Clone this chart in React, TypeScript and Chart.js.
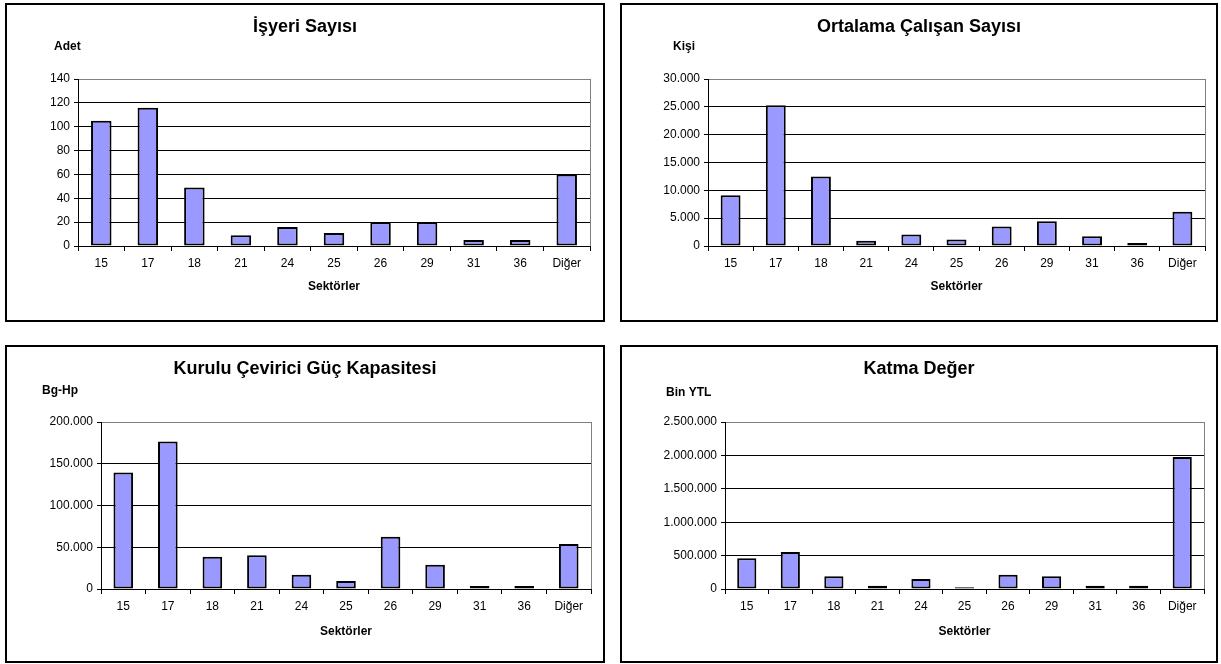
import React, { useEffect, useRef } from 'react';
import { Chart, registerables } from 'chart.js';

Chart.register(...registerables);

const sectors = ['15', '17', '18', '21', '24', '25', '26', '29', '31', '36', 'Diğer'];
const isyeriSayisi = [105, 116, 49, 9, 16, 11, 20, 20, 5, 5, 60];
const calisanSayisi = [9100, 25300, 12500, 950, 2050, 1150, 3500, 4450, 1750, 550, 6150];
const gucKapasitesi = [139500, 176500, 38500, 40500, 17000, 9500, 62500, 29000, 3500, 3500, 54000];
const katmaDeger = [460000, 555000, 190000, 50000, 150000, 25000, 215000, 190000, 50000, 50000, 1975000];

const FONT = '"Liberation Sans", Arial, Helvetica, sans-serif';

const fmt = (v: number) => String(Math.round(v)).replace(/\B(?=(\d{3})+(?!\d))/g, '.');

type PanelSpec = {
  title: string;
  unit: string;
  values: number[];
  max: number;
  step: number;
  left: number;
  top: number;
  width: number;
  height: number;
  plotLeft: number;
  plotRight: number;
  plotTop: number;
  plotBottom: number;
  titleY: number;
  unitX: number;
  unitY: number;
  axisTitleY: number;
};

const panels: PanelSpec[] = [
  {
    title: 'İşyeri Sayısı', unit: 'Adet', values: isyeriSayisi, max: 140, step: 20,
    left: 5, top: 3, width: 600, height: 319,
    plotLeft: 71, plotRight: 583, plotTop: 74, plotBottom: 241,
    titleY: 22, unitX: 47, unitY: 42, axisTitleY: 282,
  },
  {
    title: 'Ortalama Çalışan Sayısı', unit: 'Kişi', values: calisanSayisi, max: 30000, step: 5000,
    left: 620, top: 3, width: 598, height: 319,
    plotLeft: 86, plotRight: 583, plotTop: 74, plotBottom: 241,
    titleY: 22, unitX: 51, unitY: 42, axisTitleY: 282,
  },
  {
    title: 'Kurulu Çevirici Güç Kapasitesi', unit: 'Bg-Hp', values: gucKapasitesi, max: 200000, step: 50000,
    left: 5, top: 345, width: 600, height: 318,
    plotLeft: 94, plotRight: 584, plotTop: 75, plotBottom: 242,
    titleY: 22, unitX: 35, unitY: 44, axisTitleY: 285,
  },
  {
    title: 'Katma Değer', unit: 'Bin YTL', values: katmaDeger, max: 2500000, step: 500000,
    left: 620, top: 345, width: 598, height: 318,
    plotLeft: 103, plotRight: 582, plotTop: 75, plotBottom: 242,
    titleY: 22, unitX: 44, unitY: 46, axisTitleY: 285,
  },
];

function Panel({ spec }: { spec: PanelSpec }) {
  const ref = useRef<HTMLCanvasElement | null>(null);
  const cw = spec.width - 4;
  const ch = spec.height - 4;

  useEffect(() => {
    if (!ref.current) return;
    const textPlugin = {
      id: 'panelText',
      afterDraw(chart: any) {
        const ctx = chart.ctx;
        const a = chart.chartArea;
        ctx.save();
        ctx.strokeStyle = '#808080';
        ctx.lineWidth = 1;
        ctx.beginPath();
        ctx.moveTo(Math.round(a.right) + 0.5, a.top);
        ctx.lineTo(Math.round(a.right) + 0.5, a.bottom);
        ctx.stroke();
        ctx.fillStyle = '#000';
        ctx.textAlign = 'center';
        ctx.textBaseline = 'middle';
        ctx.font = `bold 18px ${FONT}`;
        ctx.fillText(spec.title, chart.width / 2, spec.titleY);
        ctx.textAlign = 'left';
        ctx.font = `bold 12px ${FONT}`;
        ctx.fillText(spec.unit, spec.unitX, spec.unitY);
        ctx.restore();
      },
    };

    const chart = new Chart(ref.current, {
      type: 'bar',
      data: {
        labels: sectors,
        datasets: [
          {
            data: spec.values,
            backgroundColor: '#9999FF',
            borderColor: '#000000',
            borderWidth: 2,
            borderSkipped: false,
            barPercentage: 0.44,
            categoryPercentage: 1.0,
          },
        ],
      },
      options: {
        responsive: false,
        maintainAspectRatio: false,
        animation: false,
        devicePixelRatio: 1,
        layout: {
          padding: { left: 0, top: spec.plotTop, right: cw - spec.plotRight, bottom: 0 },
        },
        plugins: {
          legend: { display: false },
          tooltip: { enabled: false },
          title: { display: false },
        },
        scales: {
          x: {
            offset: true,
            grid: {
              display: true,
              offset: true,
              drawOnChartArea: false,
              drawTicks: true,
              tickLength: 5,
              color: '#000',
            },
            border: { display: true, color: '#000', width: 1 },
            ticks: {
              color: '#000',
              font: { family: FONT, size: 12 },
              padding: 5,
              maxRotation: 0,
              autoSkip: false,
            },
            title: {
              display: true,
              text: 'Sektörler',
              color: '#000',
              font: { family: FONT, size: 12, weight: 'bold' },
              padding: { top: 0, bottom: ch - spec.axisTitleY - 7.2 },
            },
            afterFit: (s: any) => {
              s.height = ch - spec.plotBottom;
            },
          },
          y: {
            min: 0,
            max: spec.max,
            grid: {
              color: (c: any) => (c.tick && c.tick.value === spec.max ? '#808080' : '#000'),
              tickColor: '#000',
              tickLength: 4,
              lineWidth: 1,
            },
            border: { display: true, color: '#000', width: 1 },
            ticks: {
              stepSize: spec.step,
              color: '#000',
              font: { family: FONT, size: 12 },
              padding: 4,
              callback: (v: any) => fmt(Number(v)),
            },
            afterFit: (s: any) => {
              s.width = spec.plotLeft;
            },
          },
        },
      },
      plugins: [textPlugin],
    } as any);
    return () => chart.destroy();
  }, [spec]);

  return (
    <div
      style={{
        position: 'absolute',
        left: spec.left,
        top: spec.top,
        width: spec.width,
        height: spec.height,
        border: '2px solid #000',
        boxSizing: 'border-box',
        background: '#fff',
      }}
    >
      <canvas
        ref={ref}
        width={cw}
        height={ch}
        style={{ display: 'block', width: cw, height: ch }}
      />
    </div>
  );
}

export default function App() {
  return (
    <div
      style={{
        position: 'fixed',
        left: 0,
        top: 0,
        width: 1221,
        height: 664,
        background: '#fff',
        overflow: 'hidden',
      }}
    >
      {panels.map((p, i) => (
        <Panel key={i} spec={p} />
      ))}
    </div>
  );
}
